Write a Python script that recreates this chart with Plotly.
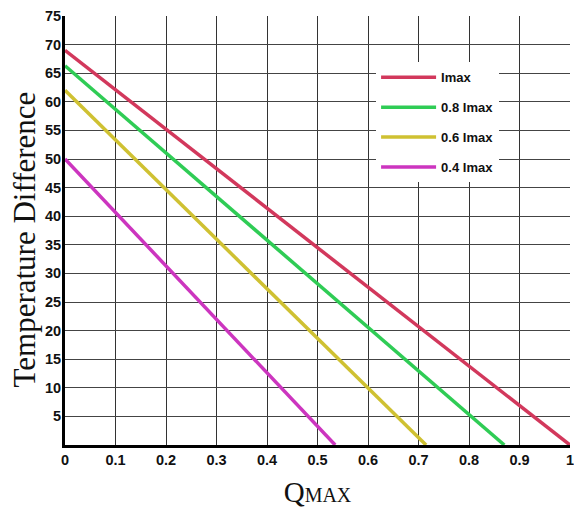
import plotly.graph_objects as go

series_names = ["Imax", "0.8 Imax", "0.6 Imax", "0.4 Imax"]
dt_max = [69.0, 66.3, 62.0, 50.0]      # temperature difference at Q = 0
q_max = [1.0, 0.87, 0.715, 0.535]      # Q at zero temperature difference
colors = ["#d2385c", "#2fcc55", "#cfc132", "#cc35bf"]

x_tickvals = [0, 0.1, 0.2, 0.3, 0.4, 0.5, 0.6, 0.7, 0.8, 0.9, 1]
x_ticktext = ["0", "0.1", "0.2", "0.3", "0.4", "0.5", "0.6", "0.7", "0.8", "0.9", "1"]
y_tickvals = [5, 10, 15, 20, 25, 30, 35, 40, 45, 50, 55, 60, 65, 70, 75]
y_ticktext = [str(v) for v in y_tickvals]
x_title = "Q<span style='font-size:20px'>MAX</span>"
y_title = "Temperature Difference"

fig = go.Figure()
for i, (name, d, q, c) in enumerate(zip(series_names, dt_max, q_max, colors)):
    fig.add_trace(go.Scatter(
        x=[0, q], y=[d, 0], mode="lines", name=name,
        line=dict(color=c, width=3.5), legendgroup=f"g{i}",
    ))

serif = dict(family="Liberation Serif, Times New Roman, serif", color="#111")
tickfont = dict(family="Liberation Sans, Arial, sans-serif", size=14.5, color="#111", weight="bold")
fig.update_layout(
    width=574, height=511,
    margin=dict(l=65, r=4, t=16, b=66),
    paper_bgcolor="white", plot_bgcolor="white",
    showlegend=True,
    legend=dict(
        x=0.616, y=0.892, xanchor="left", yanchor="top",
        bgcolor="white", borderwidth=0,
        font=dict(family="Liberation Sans, Arial, sans-serif", size=13, color="#111", weight="bold"),
        tracegroupgap=10, itemwidth=55,
    ),
    xaxis=dict(
        range=[0, 1], tickvals=x_tickvals, ticktext=x_ticktext,
        showgrid=True, gridcolor="#333", gridwidth=1,
        showline=True, linecolor="black", linewidth=3,
        zeroline=False, tickfont=tickfont, ticks="", automargin=False,
        ticklabeloverflow="allow",
        title=dict(text=x_title, font=dict(size=29, **serif), standoff=15),
    ),
    yaxis=dict(
        range=[0, 75], tickvals=y_tickvals, ticktext=y_ticktext,
        showgrid=True, gridcolor="#444", gridwidth=1,
        showline=True, linecolor="black", linewidth=3,
        zeroline=False, tickfont=tickfont, ticks="", automargin=False,
        ticklabelstandoff=-2, ticklabeloverflow="allow",
    ),
    annotations=[dict(
        text=y_title, textangle=-90, showarrow=False,
        xref="paper", yref="paper", x=0, y=0.5,
        xanchor="center", yanchor="middle", xshift=-41, yshift=-9,
        font=dict(size=31, **serif),
    )],
)

fig.write_html("out.html", config={"displayModeBar": False},
               post_script="document.body.style.margin='0';")
